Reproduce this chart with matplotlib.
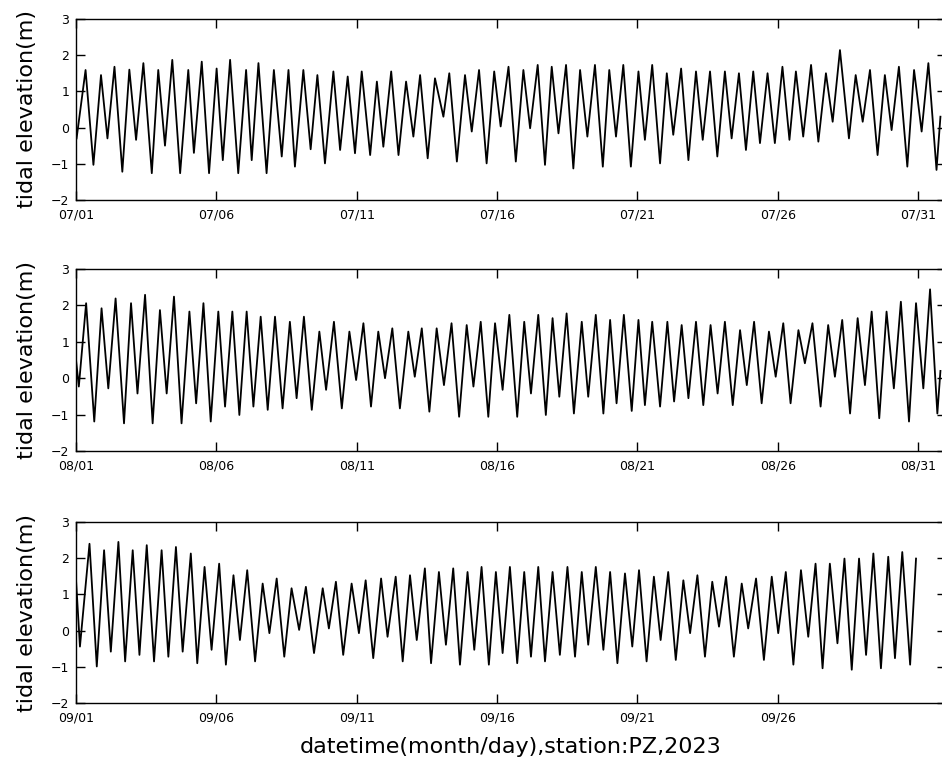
import numpy as np
import matplotlib
matplotlib.use('Agg')
import matplotlib.pyplot as plt
import matplotlib.dates as mdates
from matplotlib.ticker import FixedLocator
from datetime import datetime

# tide turning points: day offset from the 1st of the month, level in m
jul_day = [0.02, 0.34, 0.62, 0.89, 1.12, 1.37, 1.65, 1.90, 2.14, 2.40, 2.70, 2.93, 3.17, 3.43,
           3.71, 4.00, 4.20, 4.48, 4.74, 5.01, 5.23, 5.49, 5.78, 6.06, 6.26, 6.50, 6.79, 7.05,
           7.33, 7.57, 7.80, 8.10, 8.36, 8.60, 8.87, 9.17, 9.41, 9.68, 9.94, 10.18, 10.48, 10.72,
           10.95, 11.23, 11.49, 11.76, 12.02, 12.26, 12.53, 12.79, 13.09, 13.30, 13.57, 13.86,
           14.10, 14.36, 14.63, 14.90, 15.13, 15.41, 15.67, 15.94, 16.18, 16.45, 16.71, 16.95,
           17.19, 17.46, 17.72, 17.96, 18.22, 18.49, 18.77, 19.00, 19.24, 19.50, 19.77, 20.04,
           20.27, 20.53, 20.81, 21.05, 21.28, 21.56, 21.82, 22.09, 22.33, 22.59, 22.85, 23.12,
           23.36, 23.62, 23.87, 24.13, 24.37, 24.64, 24.90, 25.17, 25.42, 25.65, 25.91, 26.19,
           26.45, 26.72, 26.96, 27.22, 27.54, 27.78, 28.03, 28.29, 28.56, 28.82, 29.06, 29.32,
           29.62, 29.86, 30.13, 30.37, 30.66, 30.80]
jul_level = [-0.30, 1.59, -1.03, 1.45, -0.30, 1.68, -1.22, 1.60, -0.34, 1.78, -1.26, 1.59, -0.50, 1.87,
             -1.26, 1.59, -0.70, 1.82, -1.26, 1.63, -0.90, 1.87, -1.26, 1.59, -0.90, 1.78, -1.26, 1.59,
             -0.80, 1.59, -1.08, 1.59, -0.60, 1.45, -0.99, 1.55, -0.62, 1.41, -0.71, 1.55, -0.76, 1.27,
             -0.53, 1.55, -0.76, 1.27, -0.25, 1.45, -0.85, 1.36, 0.30, 1.50, -0.94, 1.45,
             -0.11, 1.59, -0.99, 1.55, 0.03, 1.68, -0.94, 1.59, -0.02, 1.73, -1.03, 1.68,
             -0.16, 1.73, -1.13, 1.59, -0.25, 1.73, -1.08, 1.59, -0.25, 1.73, -1.08, 1.55,
             -0.34, 1.73, -0.99, 1.50, -0.20, 1.63, -0.90, 1.55, -0.34, 1.55, -0.80, 1.55,
             -0.30, 1.50, -0.62, 1.55, -0.43, 1.50, -0.43, 1.68, -0.34, 1.55, -0.25, 1.73,
             -0.39, 1.50, 0.16, 2.14, -0.30, 1.45, 0.16, 1.59, -0.76, 1.45, -0.07, 1.68,
             -1.08, 1.59, -0.11, 1.78, -1.17, 0.30]

aug_day = [0.00, 0.10, 0.36, 0.65, 0.91, 1.15, 1.41, 1.71, 1.96, 2.19, 2.46, 2.73, 2.99, 3.23,
           3.49, 3.76, 4.04, 4.28, 4.54, 4.80, 5.07, 5.31, 5.57, 5.82, 6.08, 6.32, 6.58, 6.83,
           7.09, 7.36, 7.62, 7.86, 8.12, 8.40, 8.67, 8.91, 9.19, 9.47, 9.74, 9.98, 10.24, 10.51,
           10.77, 11.01, 11.27, 11.54, 11.84, 12.07, 12.32, 12.59, 12.85, 13.11, 13.38, 13.65,
           13.92, 14.16, 14.42, 14.69, 14.93, 15.20, 15.44, 15.72, 15.97, 16.21, 16.47, 16.74,
           16.98, 17.22, 17.48, 17.74, 18.02, 18.25, 18.52, 18.79, 19.03, 19.26, 19.52, 19.80,
           20.04, 20.27, 20.53, 20.81, 21.07, 21.31, 21.58, 21.82, 22.09, 22.35, 22.61, 22.86,
           23.12, 23.40, 23.66, 23.90, 24.16, 24.43, 24.69, 24.93, 25.20, 25.46, 25.74, 25.97,
           26.24, 26.53, 26.80, 27.04, 27.30, 27.58, 27.85, 28.11, 28.35, 28.62, 28.88, 29.14,
           29.39, 29.68, 29.93, 30.19, 30.43, 30.69, 30.80]
aug_level = [0.50, -0.23, 2.06, -1.19, 1.92, -0.28, 2.19, -1.24, 2.06, -0.42, 2.29, -1.24, 1.87, -0.42,
             2.24, -1.24, 1.83, -0.69, 2.06, -1.19, 1.83, -0.78, 1.83, -1.01, 1.83, -0.78, 1.69, -0.87,
             1.69, -0.83, 1.55, -0.55, 1.69, -0.87, 1.28, -0.32, 1.55, -0.83, 1.28, -0.05, 1.51, -0.78,
             1.28, 0.00, 1.37, -0.83, 1.28, 0.04, 1.37, -0.92, 1.37, -0.19, 1.51, -1.06,
             1.46, -0.23, 1.55, -1.06, 1.51, -0.32, 1.74, -1.06, 1.55, -0.42, 1.74, -1.01,
             1.65, -0.51, 1.78, -0.97, 1.55, -0.51, 1.74, -0.97, 1.60, -0.69, 1.74, -0.90,
             1.60, -0.74, 1.55, -0.78, 1.55, -0.64, 1.46, -0.55, 1.55, -0.74, 1.46, -0.42,
             1.55, -0.74, 1.32, -0.19, 1.55, -0.69, 1.28, 0.04, 1.51, -0.69, 1.32, 0.41,
             1.51, -0.78, 1.46, 0.04, 1.60, -0.97, 1.65, -0.19, 1.83, -1.10, 1.83, -0.28,
             2.10, -1.19, 2.06, -0.28, 2.44, -0.97, 0.20]

sep_day = [0.00, 0.14, 0.48, 0.74, 1.00, 1.24, 1.51, 1.75, 2.02, 2.26, 2.52, 2.78, 3.05, 3.29,
           3.56, 3.80, 4.09, 4.32, 4.58, 4.83, 5.10, 5.34, 5.61, 5.84, 6.10, 6.38, 6.65, 6.89,
           7.15, 7.42, 7.68, 7.95, 8.19, 8.48, 8.79, 9.01, 9.26, 9.52, 9.82, 10.08, 10.32, 10.59,
           10.87, 11.10, 11.39, 11.64, 11.90, 12.14, 12.43, 12.65, 12.93, 13.18, 13.44, 13.68,
           13.95, 14.19, 14.45, 14.71, 14.96, 15.20, 15.46, 15.72, 15.97, 16.21, 16.47, 16.71,
           16.98, 17.24, 17.51, 17.78, 18.02, 18.25, 18.52, 18.79, 19.03, 19.29, 19.56, 19.82,
           20.06, 20.33, 20.59, 20.83, 21.10, 21.37, 21.64, 21.88, 22.14, 22.41, 22.67, 22.91,
           23.16, 23.44, 23.72, 23.95, 24.23, 24.51, 24.79, 25.02, 25.29, 25.56, 25.83, 26.09,
           26.35, 26.60, 26.86, 27.13, 27.38, 27.64, 27.90, 28.15, 28.41, 28.68, 28.94, 29.18,
           29.44, 29.72, 29.93]
sep_level = [1.40, -0.44, 2.40, -0.99, 2.22, -0.58, 2.45, -0.85, 2.22, -0.67, 2.36, -0.85, 2.22, -0.72,
             2.31, -0.58, 2.13, -0.90, 1.76, -0.53, 1.85, -0.94, 1.53, -0.26, 1.67, -0.85, 1.30, -0.07,
             1.44, -0.72, 1.17, 0.02, 1.21, -0.62, 1.17, 0.06, 1.35, -0.67, 1.30, -0.07, 1.39, -0.76,
             1.44, -0.17, 1.49, -0.85, 1.53, -0.26, 1.72, -0.90, 1.62, -0.39, 1.72, -0.94,
             1.62, -0.53, 1.76, -0.94, 1.62, -0.62, 1.76, -0.90, 1.62, -0.72, 1.76, -0.85,
             1.62, -0.67, 1.76, -0.72, 1.62, -0.39, 1.76, -0.53, 1.62, -0.90, 1.58, -0.44,
             1.67, -0.85, 1.49, -0.26, 1.62, -0.81, 1.39, -0.07, 1.53, -0.72, 1.35, 0.11,
             1.49, -0.72, 1.30, 0.06, 1.44, -0.81, 1.49, -0.07, 1.62, -0.94, 1.67, -0.17,
             1.85, -1.04, 1.85, -0.35, 1.99, -1.08, 1.99, -0.67, 2.13, -1.04, 2.04, -0.76,
             2.17, -0.94, 1.99]

months = [datetime(2023, 7, 1), datetime(2023, 8, 1), datetime(2023, 9, 1)]
days = [jul_day, aug_day, sep_day]
levels = [jul_level, aug_level, sep_level]
last_tick = [30, 30, 25]   # last labelled day offset in each panel
yticks = [-2, -1, 0, 1, 2, 3]

fig = plt.figure(figsize=(9.42, 7.67), dpi=100)
boxes = [[0.0807, 0.7393, 0.9236, 0.236],
         [0.0807, 0.4120, 0.9236, 0.2373],
         [0.0807, 0.0834, 0.9236, 0.2360]]

for i in range(3):
    ax = fig.add_axes(boxes[i])
    t0 = mdates.date2num(months[i])
    x = t0 + np.array(days[i])
    ax.plot(x, levels[i], color='black', lw=1.3)
    ax.set_xlim(t0, t0 + 31)
    ax.set_ylim(-2, 3)
    ax.set_yticks(yticks)
    ax.xaxis.set_major_locator(FixedLocator([t0 + d for d in range(0, last_tick[i] + 1, 5)]))
    ax.xaxis.set_major_formatter(mdates.DateFormatter('%m/%d'))
    ax.tick_params(direction='in', length=6.5, width=1.0, top=True, right=True, labelsize=9)
    ax.tick_params(axis='x', pad=6)
    ax.tick_params(axis='y', pad=5)
    for s in ax.spines.values():
        s.set_linewidth(1.0)
    ax.set_ylabel('tidal elevation(m)', fontsize=16)
    ax.yaxis.set_label_coords(-0.045, 0.5)
    if i == 2:
        ax.set_xlabel('datetime(month/day),station:PZ,2023', fontsize=16)
        ax.xaxis.set_label_coords(0.5, -0.19)

fig.savefig('out.png', dpi=100)
